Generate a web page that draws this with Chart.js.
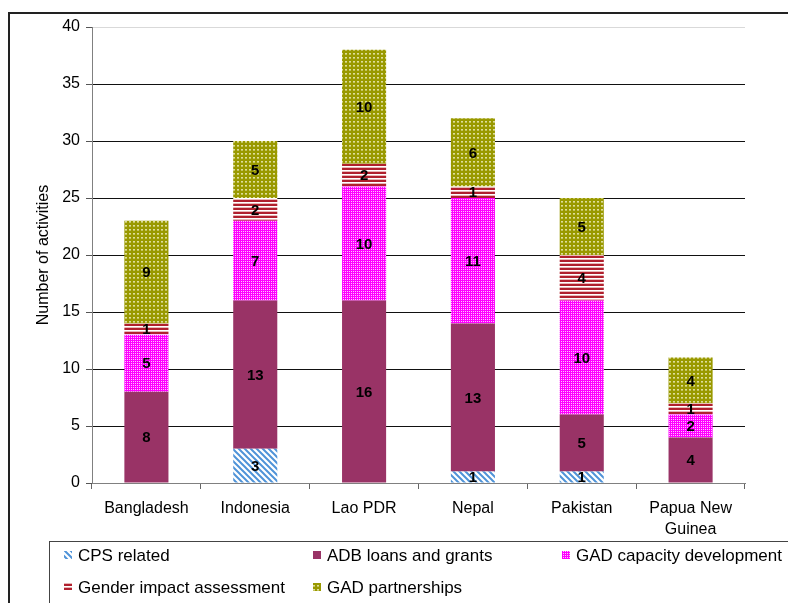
<!DOCTYPE html>
<html>
<head>
<meta charset="utf-8">
<script src="https://cdn.jsdelivr.net/npm/chart.js@4"></script>
<style>
  html, body { margin: 0; padding: 0; background: #fff; }
  #wrap { width: 788px; height: 603px; position: relative; }
</style>
</head>
<body>
<div id="wrap"><canvas id="c"></canvas></div>
<script>
/* Stacked activity counts per country, drawn with Chart.js. */

const countries = ["Bangladesh", "Indonesia", "Lao PDR", "Nepal", "Pakistan", ["Papua New", "Guinea"]];
const cpsRelated   = [0, 3, 0, 1, 1, 0];
const adbLoans     = [8, 13, 16, 13, 5, 4];
const gadCapacity  = [5, 7, 10, 11, 10, 2];
const genderImpact = [1, 2, 2, 1, 4, 1];
const gadPartners  = [9, 5, 10, 6, 5, 4];
const yTicks = [0, 5, 10, 15, 20, 25, 30, 35, 40];

const FONT = "'Liberation Sans', Arial, sans-serif";

function tile(w, h, paint) {
  const cv = document.createElement("canvas");
  cv.width = w; cv.height = h;
  const g = cv.getContext("2d");
  paint(g);
  return document.createElement("canvas").getContext("2d").createPattern(cv, "repeat");
}

const PAT = {
  cps: tile(6, 6, g => {
    g.fillStyle = "#fff"; g.fillRect(0, 0, 6, 6);
    g.strokeStyle = "#4f93d8"; g.lineWidth = 2;
    g.beginPath();
    g.moveTo(-1, -1); g.lineTo(7, 7);
    g.moveTo(-4, 2); g.lineTo(4, 10);
    g.moveTo(2, -4); g.lineTo(10, 4);
    g.stroke();
  }),
  adb: "#993366",
  cap: tile(2, 2, g => {
    g.fillStyle = "#ff00ff"; g.fillRect(0, 0, 2, 2);
    g.fillStyle = "#ffc4ff"; g.fillRect(1, 1, 1, 1);
  }),
  gender: tile(4, 4, g => {
    g.fillStyle = "#b0202e"; g.fillRect(0, 0, 4, 2);
    g.fillStyle = "#ffffff"; g.fillRect(0, 2, 4, 1);
    g.fillStyle = "#e8b8b8"; g.fillRect(0, 3, 4, 1);
  }),
  partners: tile(4, 4, g => {
    g.fillStyle = "#999900"; g.fillRect(0, 0, 4, 4);
    g.fillStyle = "#dede9a"; g.fillRect(1, 1, 2, 1);
    g.fillStyle = "#c4c460"; g.fillRect(1, 2, 2, 1);
  }),
};

const series = [
  { label: "CPS related", data: cpsRelated, fill: PAT.cps },
  { label: "ADB loans and grants", data: adbLoans, fill: PAT.adb },
  { label: "GAD capacity development", data: gadCapacity, fill: PAT.cap },
  { label: "Gender impact assessment", data: genderImpact, fill: PAT.gender },
  { label: "GAD partnerships", data: gadPartners, fill: PAT.partners },
];

// frame + legend box, drawn by hand like the original spreadsheet export
const frame = {
  id: "frame",
  beforeDraw(chart) {
    const ctx = chart.ctx;
    ctx.save();
    ctx.fillStyle = "#fff";
    ctx.fillRect(0, 0, chart.width, chart.height);
    ctx.strokeStyle = "#222"; ctx.lineWidth = 2;
    ctx.strokeRect(9, 13, 900, 700);
    ctx.restore();
  },
  afterDraw(chart) {
    const ctx = chart.ctx;
    ctx.save();
    ctx.strokeStyle = "#444"; ctx.lineWidth = 1;
    ctx.strokeRect(49.5, 541.5, 900, 100);
    const cols = [64, 313, 562], rows = [555, 587];
    ctx.font = "17px " + FONT;
    ctx.textBaseline = "middle";
    chart.data.datasets.forEach((ds, i) => {
      const x = cols[i % 3], y = rows[Math.floor(i / 3)];
      ctx.fillStyle = ds.backgroundColor;
      ctx.fillRect(x, y - 4, 8, 8);
      ctx.fillStyle = "#000";
      ctx.fillText(ds.label, x + 14, y + 1);
    });
    ctx.restore();
  },
};

// value labels centred in each segment
const segLabels = {
  id: "segLabels",
  afterDatasetsDraw(chart) {
    const ctx = chart.ctx;
    ctx.save();
    ctx.font = "bold 15px " + FONT;
    ctx.textAlign = "center";
    ctx.textBaseline = "middle";
    ctx.fillStyle = "#000";
    chart.data.datasets.forEach((ds, i) => {
      chart.getDatasetMeta(i).data.forEach((bar, j) => {
        const v = ds.data[j];
        if (!v) return;
        const { x, y, base } = bar.getProps(["x", "y", "base"], true);
        ctx.fillText(String(v), x, (y + base) / 2 + 1);
      });
    });
    ctx.restore();
  },
};

new Chart(document.getElementById("c"), {
  type: "bar",
  data: {
    labels: countries,
    datasets: series.map(s => ({
      label: s.label,
      data: s.data,
      backgroundColor: s.fill,
      borderWidth: 0,
      categoryPercentage: 1,
      barPercentage: 0.405,
    })),
  },
  options: {
    responsive: true,
    maintainAspectRatio: false,
    animation: false,
    layout: { padding: { left: 8, top: 27, right: 43, bottom: 62 } },
    plugins: { legend: { display: false }, tooltip: { enabled: false } },
    scales: {
      x: {
        stacked: true,
        afterFit: s => { s.height = 58; },
        grid: { drawOnChartArea: false, offset: true, tickLength: 6, tickColor: "#666" },
        border: { color: "#808080", width: 1 },
        ticks: { color: "#000", padding: 9, maxRotation: 0, font: { family: FONT, size: 16, lineHeight: 1.3 } },
      },
      y: {
        stacked: true,
        min: 0, max: 40,
        afterFit: s => { s.width = 84; },
        afterBuildTicks: s => { s.ticks = yTicks.map(v => ({ value: v })); },
        grid: {
          color: c => c.tick.value === 40 ? "#d9d9d9" : (c.tick.value === 0 ? "#808080" : "#111"),
          tickLength: 6, tickColor: "#555",
        },
        border: { color: "#808080", width: 1 },
        ticks: { color: "#000", padding: 6, font: { family: FONT, size: 16 } },
        title: {
          display: true, text: "Number of activities", color: "#000",
          padding: { top: 26, bottom: 0 }, font: { family: FONT, size: 16 },
        },
      },
    },
  },
  plugins: [frame, segLabels],
});
</script>
</body>
</html>
